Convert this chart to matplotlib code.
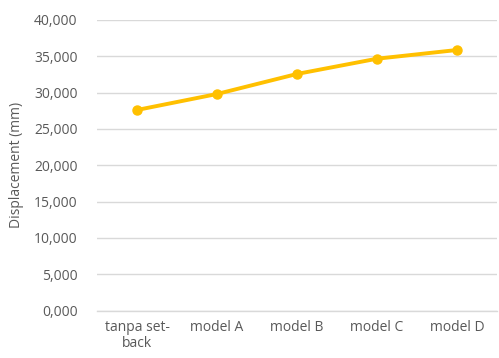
import matplotlib
matplotlib.use("Agg")
import matplotlib.pyplot as plt
from matplotlib.ticker import FuncFormatter

categories = ["tanpa set-\nback", "model A", "model B", "model C", "model D"]
displacement = [27610, 29810, 32570, 34670, 35870]
y_ticks = [0, 5000, 10000, 15000, 20000, 25000, 30000, 35000, 40000]

plt.rcParams["font.family"] = ["Open Sans", "DejaVu Sans"]


def thousands_comma(v, pos):
    # values shown in thousands with a decimal comma, e.g. 35,000
    return f"{v / 1000:.3f}".replace(".", ",")


fig = plt.figure(figsize=(4.99, 3.58), dpi=100)
ax = fig.add_axes([97 / 499, 1 - 310.5 / 358, 400 / 499, 290.5 / 358])

x = list(range(len(categories)))
ax.plot(x, displacement, color="#FFC000", linewidth=2.8, marker="o",
        markersize=6.5, solid_capstyle="round", zorder=3)

ax.set_xlim(-0.5, len(categories) - 0.5)
ax.set_ylim(0, 40000)
ax.set_yticks(y_ticks)
ax.yaxis.set_major_formatter(FuncFormatter(thousands_comma))
ax.set_xticks(x)
ax.set_xticklabels(categories, linespacing=1.05)

ax.grid(axis="y", color="#D9D9D9", linewidth=1)
ax.set_axisbelow(True)
for s in ["top", "right", "left"]:
    ax.spines[s].set_visible(False)
ax.spines["bottom"].set_color("#D9D9D9")
ax.spines["bottom"].set_linewidth(1)

ax.tick_params(axis="both", length=0, labelsize=10, colors="#595959")
ax.tick_params(axis="y", pad=14)
ax.tick_params(axis="x", pad=7)

ax.set_ylabel("Displacement (mm)", fontsize=10, color="#595959", labelpad=7)

fig.savefig("out.png", dpi=100, facecolor="white")
